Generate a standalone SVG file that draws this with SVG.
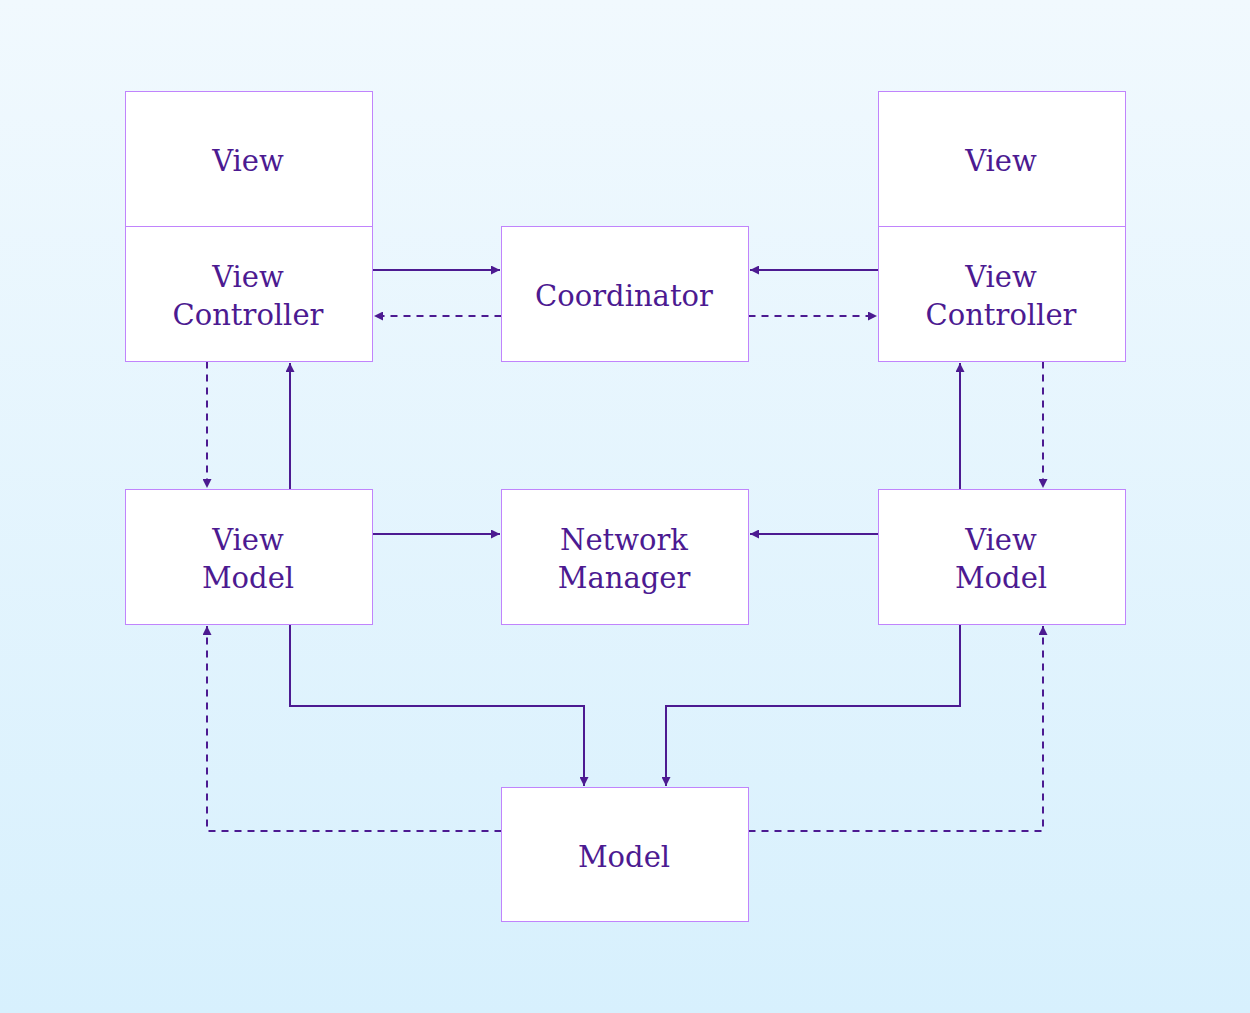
<svg xmlns="http://www.w3.org/2000/svg" width="1250" height="1013" viewBox="0 0 1250 1013">
<defs>
<linearGradient id="bg" x1="0" y1="0" x2="0" y2="1">
<stop offset="0" stop-color="#f1f9fe"/>
<stop offset="1" stop-color="#d7f0fd"/>
</linearGradient>
<marker id="ah" viewBox="0 0 10 10" refX="10" refY="5" markerWidth="12" markerHeight="9" markerUnits="userSpaceOnUse" orient="auto">
<path d="M0,0 L10,5 L0,10 z" fill="#4c1a91"/>
</marker>
<style>
.box{fill:#ffffff;stroke:#c084fc;stroke-width:1}
.lbl{font-family:"DejaVu Serif","Liberation Serif",serif;font-size:29px;fill:#4c1a91;text-anchor:middle}
.c{fill:none;stroke:#4c1a91;stroke-width:2;marker-end:url(#ah)}
.d{stroke-dasharray:7 6}
</style>
</defs>
<rect width="1250" height="1013" fill="url(#bg)"/>
<g id="connectors">
<path class="c" d="M372.5,270 H500"/>
<path class="c d" d="M501.5,316 H374"/>
<path class="c" d="M878.5,270 H750"/>
<path class="c d" d="M748.5,316 H877"/>
<path class="c d" d="M207,361.5 V488"/>
<path class="c" d="M290,489.5 V363"/>
<path class="c" d="M960,489.5 V363"/>
<path class="c d" d="M1043,361.5 V488"/>
<path class="c" d="M372.5,534 H500"/>
<path class="c" d="M878.5,534 H750"/>
<path class="c" d="M290,624.5 V706 H584 V786"/>
<path class="c" d="M960,624.5 V706 H666 V786"/>
<path class="c d" d="M501.5,831 H207 V626"/>
<path class="c d" d="M748.5,831 H1043 V626"/>
</g>
<g id="view-left">
<rect class="box" x="125.5" y="91.5" width="247" height="135"/>
<text class="lbl" x="248" y="171">View</text>
</g>
<g id="vc-left">
<rect class="box" x="125.5" y="226.5" width="247" height="135"/>
<text class="lbl" x="248" y="287">View</text>
<text class="lbl" x="248" y="325">Controller</text>
</g>
<g id="coordinator">
<rect class="box" x="501.5" y="226.5" width="247" height="135"/>
<text class="lbl" x="624" y="306">Coordinator</text>
</g>
<g id="view-right">
<rect class="box" x="878.5" y="91.5" width="247" height="135"/>
<text class="lbl" x="1001" y="171">View</text>
</g>
<g id="vc-right">
<rect class="box" x="878.5" y="226.5" width="247" height="135"/>
<text class="lbl" x="1001" y="287">View</text>
<text class="lbl" x="1001" y="325">Controller</text>
</g>
<g id="vm-left">
<rect class="box" x="125.5" y="489.5" width="247" height="135"/>
<text class="lbl" x="248" y="550">View</text>
<text class="lbl" x="248" y="588">Model</text>
</g>
<g id="network-manager">
<rect class="box" x="501.5" y="489.5" width="247" height="135"/>
<text class="lbl" x="624" y="550">Network</text>
<text class="lbl" x="624" y="588">Manager</text>
</g>
<g id="vm-right">
<rect class="box" x="878.5" y="489.5" width="247" height="135"/>
<text class="lbl" x="1001" y="550">View</text>
<text class="lbl" x="1001" y="588">Model</text>
</g>
<g id="model">
<rect class="box" x="501.5" y="787.5" width="247" height="134"/>
<text class="lbl" x="624" y="867">Model</text>
</g>
</svg>
